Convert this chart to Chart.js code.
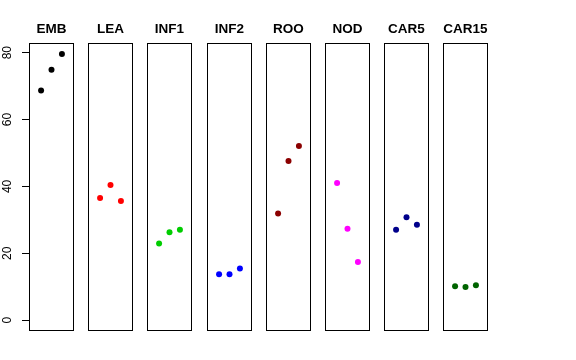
<!DOCTYPE html>
<html><head><meta charset="utf-8">
<script src="https://cdn.jsdelivr.net/npm/chart.js@4/dist/chart.umd.min.js"></script>
<style>
html,body{margin:0;padding:0;background:#fff;}
#wrap{position:relative;width:576px;height:360px;overflow:hidden;background:#fff}
#wrap canvas{position:absolute;top:0}
</style>
</head><body><div id="wrap"></div>
<script>
// ---- data ----
const categories = ['EMB','LEA','INF1','INF2','ROO','NOD','CAR5','CAR15'];
const replicates = [1, 2, 3];
const EMB   = [68.7, 74.9, 79.6];
const LEA   = [36.5, 40.4, 35.6];
const INF1  = [22.9, 26.3, 27.0];
const INF2  = [13.7, 13.7, 15.4];
const ROO   = [31.9, 47.6, 52.1];
const NOD   = [41.0, 27.3, 17.4];
const CAR5  = [27.0, 30.8, 28.5];
const CAR15 = [10.1, 9.9, 10.4];
const seriesValues = [EMB, LEA, INF1, INF2, ROO, NOD, CAR5, CAR15];
const colors = ['#000000','#FF0000','#00CD00','#0000FF','#8B0000','#FF00FF','#00008B','#006400'];
const yTicks = [0, 20, 40, 60, 80];

// ---- layout ----
const FONT = "'Liberation Sans', Arial, Helvetica, sans-serif";
const yMin = -3.18, yMax = 82.78;
const xMin = -0.16, xMax = 4.16;
const panel0 = 29, step = 59.2, panelW = 45, axisW = 29;

const boxPlugin = {
  id: 'box',
  afterDraw(chart) {
    const a = chart.chartArea, c = chart.ctx;
    c.save();
    c.strokeStyle = '#000';
    c.lineWidth = 1;
    c.strokeRect(Math.round(a.left) + 0.5, Math.round(a.top) + 0.5,
                 Math.round(a.right - a.left) - 1, Math.round(a.bottom - a.top));
    c.restore();
  }
};

const wrap = document.getElementById('wrap');
categories.forEach((name, i) => {
  const first = i === 0;
  const cv = document.createElement('canvas');
  const w = first ? axisW + panelW : panelW;
  const left = first ? 0 : Math.round(panel0 + step * i);
  cv.width = w; cv.height = 360;
  cv.style.left = left + 'px';
  cv.style.width = w + 'px'; cv.style.height = '360px';
  wrap.appendChild(cv);
  const yScale = {
    type: 'linear', min: yMin, max: yMax, display: first,
    afterBuildTicks(s) { s.ticks = yTicks.map(v => ({value: v})); },
    border: {display: false},
    grid: {display: true, drawOnChartArea: false, drawTicks: true, tickLength: 7, color: '#000', tickColor: '#000'},
    ticks: {
      color: '#000', font: {family: FONT, size: 12},
      minRotation: 90, maxRotation: 90, crossAlign: 'center', padding: 8,
      callback: v => String(v)
    }
  };
  if (first) yScale.afterFit = s => { s.width = axisW; };
  new Chart(cv, {
    type: 'scatter',
    data: {
      datasets: [{
        data: replicates.map((r, k) => ({x: r, y: seriesValues[i][k]})),
        backgroundColor: colors[i],
        borderColor: colors[i],
        borderWidth: 0,
        pointRadius: 3,
        pointHoverRadius: 3
      }]
    },
    options: {
      responsive: false,
      animation: false,
      devicePixelRatio: 1,
      layout: {autoPadding: false, padding: {left: 0, right: 0, top: 0, bottom: 29.3}},
      plugins: {
        legend: {display: false},
        tooltip: {enabled: false},
        title: {
          display: true, text: name, fullSize: false, color: '#000',
          font: {family: FONT, size: 13.5, weight: 'bold', lineHeight: 1.2},
          padding: {top: 21.4, bottom: 5.8}
        }
      },
      scales: {
        x: {type: 'linear', min: xMin, max: xMax, display: false},
        y: yScale
      }
    },
    plugins: [boxPlugin]
  });
});
</script>
</body></html>
